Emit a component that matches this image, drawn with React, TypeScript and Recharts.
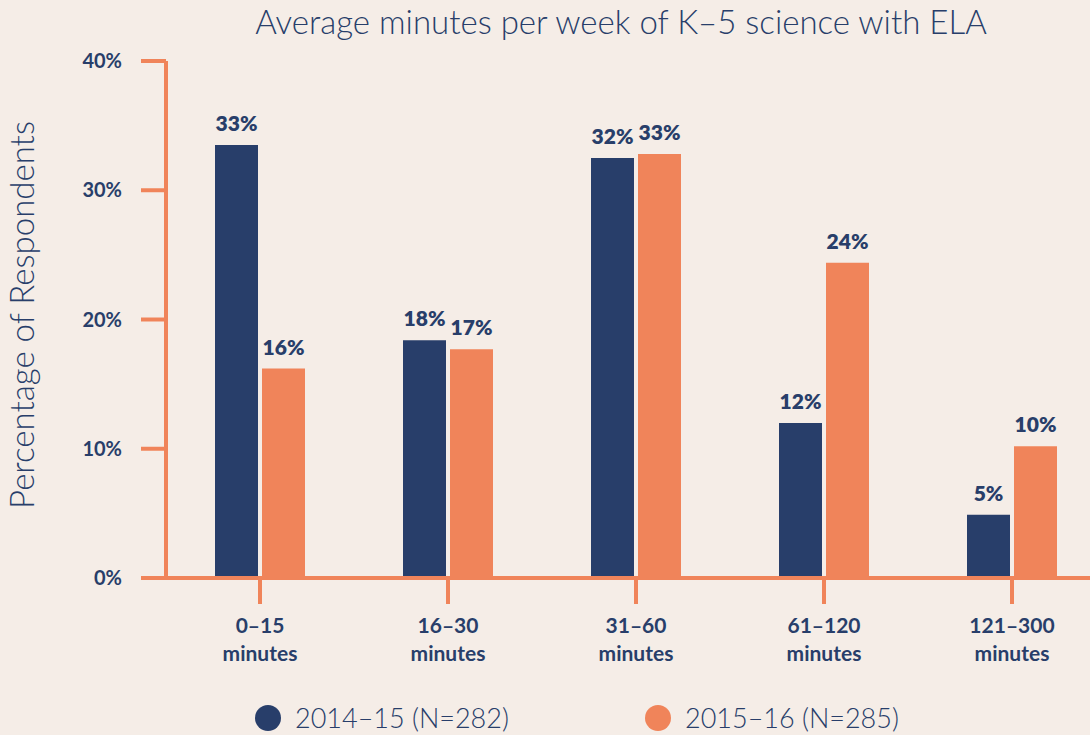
import { BarChart, Bar, XAxis, YAxis, Legend, LabelList, Label } from "recharts";

const categories = ["0–15", "16–30", "31–60", "61–120", "121–300"];
const series2014 = [33.5, 18.4, 32.5, 12.0, 4.9];
const series2015 = [16.2, 17.7, 32.8, 24.4, 10.2];
const labels2014 = ["33%", "18%", "32%", "12%", "5%"];
const labels2015 = ["16%", "17%", "33%", "24%", "10%"];
const yTicks = [0, 10, 20, 30, 40];
const seriesNames = ["2014–15 (N=282)", "2015–16 (N=285)"];

const NAVY = "#283e6a";
const ORANGE = "#f0845a";
const BG = "#f5ede7";
const FONT = "Lato, 'Open Sans', sans-serif";

const data = categories.map((c, i) => ({
  name: c,
  y14: series2014[i],
  y15: series2015[i],
  l14: labels2014[i],
  l15: labels2015[i],
}));

function XTick(props: any) {
  const { x, y, payload } = props;
  return (
    <text x={x} y={y} textAnchor="middle" fill={NAVY} fontFamily={FONT} fontWeight={700} fontSize={21}>
      <tspan x={x} dy={27}>{payload.value}</tspan>
      <tspan x={x} dy={28}>minutes</tspan>
    </text>
  );
}

function YTitle() {
  return (
    <text
      x={34}
      y={315}
      transform="rotate(-90, 34, 315)"
      textAnchor="middle"
      fill={NAVY}
      fontFamily={FONT}
      fontWeight={300}
      fontSize={33}
    >
      Percentage of Respondents
    </text>
  );
}

function LegendContent(props: any) {
  const lefts = [255, 645];
  const items = props.payload || [];
  return (
    <div style={{ position: "relative", width: 1090, height: 30 }}>
      {items.map((it: any, i: number) => (
        <div key={i} style={{ position: "absolute", left: lefts[i], top: 0, display: "flex", alignItems: "center" }}>
          <span style={{ width: 26, height: 26, borderRadius: 13, background: it.color, display: "inline-block" }} />
          <span style={{ marginLeft: 14, fontFamily: FONT, fontWeight: 300, fontSize: 27, color: NAVY, lineHeight: "30px" }}>
            {it.value}
          </span>
        </div>
      ))}
    </div>
  );
}

export default function App() {
  return (
    <div style={{ position: "absolute", left: 0, top: 0, width: 1090, height: 735, overflow: "hidden", background: BG }}>
      <div
        style={{
          position: "absolute",
          left: 0,
          top: 0,
          width: 1242,
          textAlign: "center",
          fontFamily: FONT,
          fontWeight: 300,
          fontSize: 33,
          lineHeight: "42px",
          color: NAVY,
        }}
      >
        Average minutes per week of K–5 science with ELA
      </div>
      <div style={{ position: "absolute", left: 155, top: 576, width: 12, height: 4, background: ORANGE }} />
      <BarChart
        width={1110}
        height={735}
        data={data}
        margin={{ top: 61, right: 4, bottom: 97, left: 0 }}
        barGap={4}
        barSize={43}
        style={{ position: "absolute", left: 0, top: 0 }}
      >
        <XAxis
          dataKey="name"
          height={60}
          axisLine={{ stroke: ORANGE, strokeWidth: 4 }}
          tickLine={{ stroke: ORANGE, strokeWidth: 4 }}
          tickSize={26}
          tick={<XTick />}
          interval={0}
        />
        <YAxis
          width={166}
          domain={[0, 40]}
          ticks={yTicks}
          tickFormatter={(v: number) => `${v}%`}
          axisLine={{ stroke: ORANGE, strokeWidth: 4 }}
          tickLine={{ stroke: ORANGE, strokeWidth: 4 }}
          tickSize={25}
          tickMargin={19}
          tick={{ fill: NAVY, fontFamily: FONT, fontWeight: 700, fontSize: 20 }}
        >
          <Label content={<YTitle />} />
        </YAxis>
        <Legend
          verticalAlign="middle"
          align="center"
          content={<LegendContent />}
          wrapperStyle={{ position: "absolute", left: 0, top: 703, width: 1090, bottom: "auto" }}
        />
        <Bar dataKey="y14" name={seriesNames[0]} fill={NAVY} isAnimationActive={false}>
          <LabelList dataKey="l14" position="top" offset={14} fill={NAVY} fontFamily={FONT} fontWeight={800} fontSize={21} />
        </Bar>
        <Bar dataKey="y15" name={seriesNames[1]} fill={ORANGE} isAnimationActive={false}>
          <LabelList dataKey="l15" position="top" offset={14} fill={NAVY} fontFamily={FONT} fontWeight={800} fontSize={21} />
        </Bar>
      </BarChart>
    </div>
  );
}
